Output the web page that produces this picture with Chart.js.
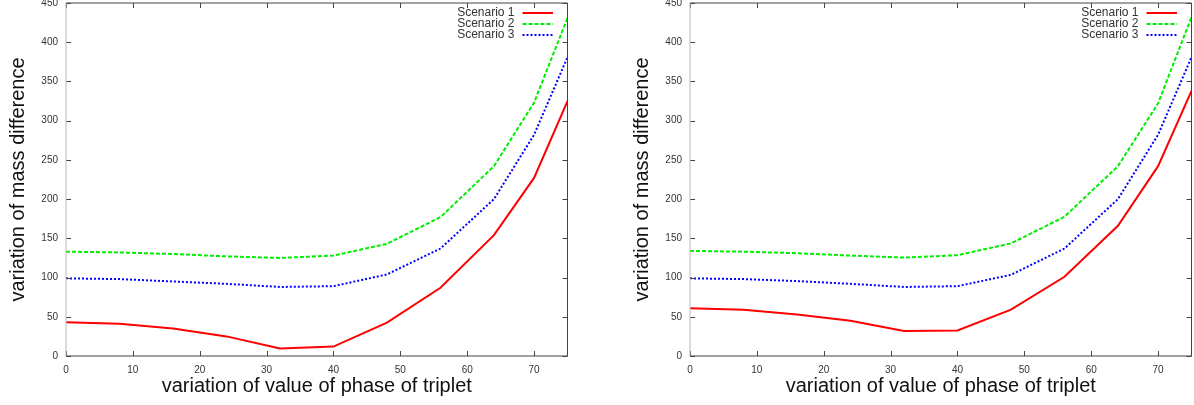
<!DOCTYPE html>
<html>
<head>
<meta charset="utf-8">
<script src="https://cdn.jsdelivr.net/npm/chart.js@4"></script>
<style>
  body { margin: 0; background: #fff; }
  .box { position: absolute; top: 0; width: 570px; height: 405px; }
</style>
</head>
<body>
<div class="box" style="left:0"><canvas id="canvas-left"></canvas></div>
<div class="box" style="left:624px"><canvas id="canvas-right"></canvas></div>
<script>
// x values (phase of triplet)
var phase = [0, 8, 16, 24, 32, 40, 48, 56, 64, 70, 75];

// left chart
var left_s1 = [43, 41, 35, 25, 9.5, 12, 42.5, 87, 154, 227, 325];
var left_s2 = [133, 132, 130, 127, 125, 128, 143, 177, 242, 323, 431];
var left_s3 = [99, 98, 95, 92, 88, 89, 104, 137, 200, 282, 381];

// right chart
var right_s1 = [61, 59, 53, 45, 32, 32.5, 59, 101, 166, 242, 338];
var right_s2 = [134, 133, 131, 128, 125.5, 128.5, 143.5, 177.5, 242, 322, 432];
var right_s3 = [99, 98, 95.5, 92, 88, 89, 103.5, 137, 200, 282, 381];

var labels = ['Scenario 1', 'Scenario 2', 'Scenario 3'];
var x_title = 'variation of value of phase of triplet';
var y_title = 'variation of mass difference';

var fontFamily = '"Liberation Sans", Arial, sans-serif';

// pair x with y values for the linear x axis
function toPoints(values) {
    return values.map(function(v, i) { return {x: phase[i], y: v}; });
}

// gnuplot style frame, inward ticks and legend inside the plot
var gnuplotFrame = {
    id: 'gnuplotFrame',
    afterDatasetsDraw: function(chart) {
        var ctx = chart.ctx;
        var a = chart.chartArea;
        var xs = chart.scales.x;
        var ys = chart.scales.y;
        var tick = 5;
        ctx.save();
        ctx.lineWidth = 1;
        ctx.strokeStyle = '#444';
        // ticks
        ctx.beginPath();
        xs.ticks.forEach(function(t) {
            var px = Math.round(xs.getPixelForValue(t.value)) + 0.5;
            ctx.moveTo(px, a.bottom); ctx.lineTo(px, a.bottom - tick);
            ctx.moveTo(px, a.top); ctx.lineTo(px, a.top + tick);
        });
        ys.ticks.forEach(function(t) {
            var py = Math.round(ys.getPixelForValue(t.value)) + 0.5;
            ctx.moveTo(a.left, py); ctx.lineTo(a.left + tick, py);
            ctx.moveTo(a.right, py); ctx.lineTo(a.right - tick, py);
        });
        ctx.stroke();
        // frame
        ctx.beginPath();
        ctx.moveTo(a.left, a.bottom);
        ctx.lineTo(a.right, a.bottom);
        ctx.lineTo(a.right, a.top);
        ctx.lineTo(a.left, a.top);
        ctx.stroke();
        ctx.strokeStyle = '#bbb';
        ctx.beginPath();
        ctx.moveTo(a.left, a.top);
        ctx.lineTo(a.left, a.bottom);
        ctx.stroke();
        // legend
        ctx.font = '12px ' + fontFamily;
        ctx.textAlign = 'right';
        ctx.textBaseline = 'middle';
        chart.data.datasets.forEach(function(ds, i) {
            var y = a.top + 10 + i * 11;
            ctx.fillStyle = '#333';
            ctx.fillText(ds.label, a.right - 53, y);
            ctx.strokeStyle = ds.borderColor;
            ctx.lineWidth = ds.borderWidth;
            ctx.setLineDash(ds.borderDash || []);
            ctx.beginPath();
            ctx.moveTo(a.right - 45, y);
            ctx.lineTo(a.right - 14.5, y);
            ctx.stroke();
            ctx.setLineDash([]);
        });
        ctx.restore();
    }
};

function printChart(id, s1, s2, s3) {
    var ctx = document.getElementById(id).getContext('2d');
    return new Chart(ctx, {
        type: 'line',
        data: {
            datasets: [{
                label: labels[0],
                data: toPoints(s1),
                borderColor: '#ff0000',
                borderWidth: 2,
            }, {
                label: labels[1],
                data: toPoints(s2),
                borderColor: '#00ee00',
                borderWidth: 2,
                borderDash: [4, 2],
            }, {
                label: labels[2],
                data: toPoints(s3),
                borderColor: '#0000ff',
                borderWidth: 2,
                borderDash: [2, 2],
            }]
        },
        options: {
            responsive: true,
            maintainAspectRatio: false,
            animation: false,
            layout: { padding: { top: 3, right: 2.5, left: 0, bottom: 0 } },
            elements: {
                point: { radius: 0 },
                line: { tension: 0 }
            },
            plugins: {
                legend: { display: false },
                tooltip: { enabled: false }
            },
            scales: {
                x: {
                    type: 'linear',
                    min: 0,
                    max: 75,
                    grid: { display: false, drawTicks: false },
                    border: { display: false },
                    afterBuildTicks: function(scale) {
                        scale.ticks = scale.ticks.filter(function(t) { return t.value % 10 === 0; });
                    },
                    afterFit: function(scale) {
                        scale.height = 49;
                        scale.paddingLeft = 0;
                        scale.paddingRight = 0;
                    },
                    ticks: {
                        stepSize: 10,
                        padding: 8,
                        color: '#333',
                        font: { family: fontFamily, size: 10 }
                    },
                    title: {
                        display: true,
                        text: x_title,
                        color: '#111',
                        padding: { top: 0, bottom: 7 },
                        font: { family: fontFamily, size: 20 }
                    }
                },
                y: {
                    min: 0,
                    max: 450,
                    grid: { display: false, drawTicks: false },
                    border: { display: false },
                    afterFit: function(scale) {
                        scale.width = 66;
                        scale.paddingTop = 0;
                        scale.paddingBottom = 0;
                    },
                    ticks: {
                        stepSize: 50,
                        padding: 8,
                        color: '#333',
                        font: { family: fontFamily, size: 10 }
                    },
                    title: {
                        display: true,
                        text: y_title,
                        color: '#111',
                        padding: { top: 6, bottom: 0 },
                        font: { family: fontFamily, size: 20 }
                    }
                }
            }
        },
        plugins: [gnuplotFrame]
    });
}

printChart('canvas-left', left_s1, left_s2, left_s3);
printChart('canvas-right', right_s1, right_s2, right_s3);
</script>
</body>
</html>
